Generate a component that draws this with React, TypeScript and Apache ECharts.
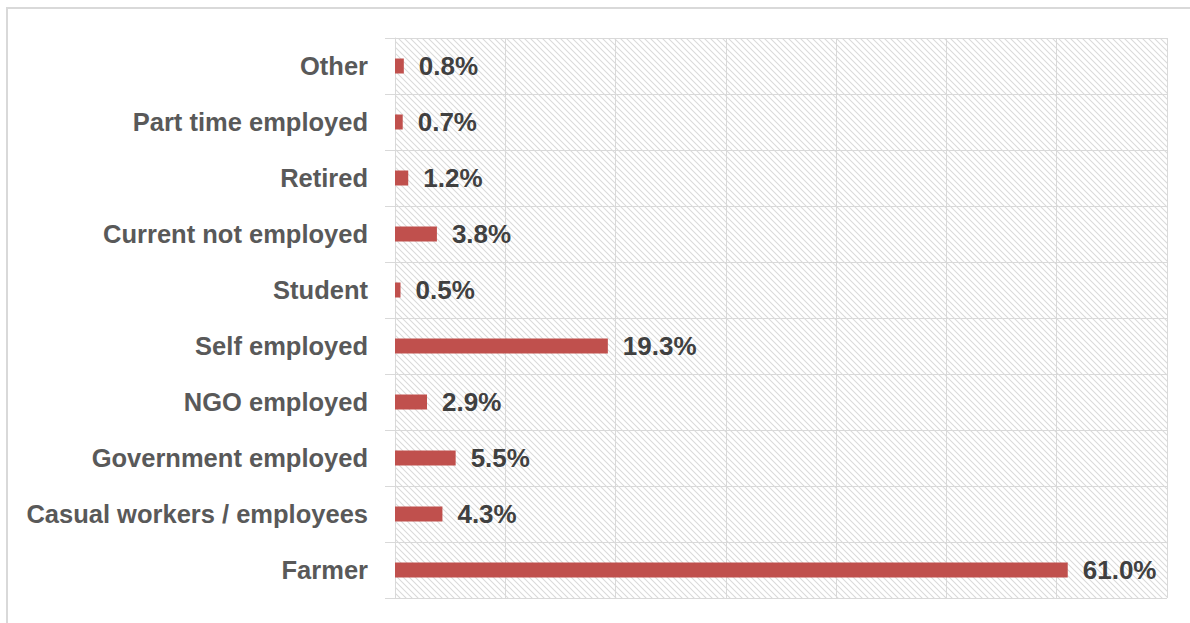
import React, { useEffect, useRef } from "react";
import * as echarts from "echarts";

const categories = [
  "Farmer",
  "Casual workers / employees",
  "Government employed",
  "NGO employed",
  "Self employed",
  "Student",
  "Current not employed",
  "Retired",
  "Part time employed",
  "Other",
];
const values = [61.0, 4.3, 5.5, 2.9, 19.3, 0.5, 3.8, 1.2, 0.7, 0.8];
const xMin = 0;
const xMax = 70;
const xInterval = 10;

const W = 1190;
const H = 623;
const GRID = { left: 395, right: 23, top: 38, bottom: 25 };

function hatchTile(): string {
  const s = 6;
  const svg =
    `<svg xmlns='http://www.w3.org/2000/svg' width='${s}' height='${s}'>` +
    `<path d='M-1,-1 L${s + 1},${s + 1} M-1,${s - 1} L1,${s + 1} M${s - 1},-1 L${s + 1},1' stroke='#dadada' stroke-width='1.1' fill='none'/>` +
    `</svg>`;
  return "data:image/svg+xml;charset=utf-8," + encodeURIComponent(svg);
}

export default function App() {
  const ref = useRef<HTMLDivElement>(null);
  useEffect(() => {
    if (!ref.current) return;
    const chart = echarts.init(ref.current, undefined, { renderer: "svg" });
    const font = "'Liberation Sans', Arial, sans-serif";
    const gridW = W - GRID.left - GRID.right;
    const gridH = H - GRID.top - GRID.bottom;
    chart.setOption({
      animation: false,
      backgroundColor: "#ffffff",
      grid: { ...GRID, containLabel: false },
      graphic: [
        {
          type: "rect",
          z: -10,
          silent: true,
          shape: { x: 7, y: 8, width: 1300, height: 800 },
          style: { fill: "#ffffff", stroke: "#d9d9d9", lineWidth: 2 },
        },
        {
          type: "rect",
          z: -5,
          silent: true,
          shape: { x: GRID.left, y: GRID.top, width: gridW, height: gridH },
          style: {
            fill: { image: hatchTile(), repeat: "repeat", imageWidth: 6, imageHeight: 6 },
          },
        },
      ],
      xAxis: {
        type: "value",
        min: xMin,
        max: xMax,
        interval: xInterval,
        axisLine: { show: false },
        axisTick: { show: false },
        axisLabel: { show: false },
        splitLine: { show: true, lineStyle: { color: "#d9d9d9", width: 1 } },
      },
      yAxis: {
        type: "category",
        data: categories,
        axisLine: { show: true, lineStyle: { color: "#d9d9d9", width: 1 } },
        axisTick: { show: true, length: 10, lineStyle: { color: "#d9d9d9" } },
        splitLine: { show: true, lineStyle: { color: "#d9d9d9", width: 1 } },
        axisLabel: {
          margin: 27,
          color: "#595959",
          fontFamily: font,
          fontWeight: "bold",
          fontSize: 25.5,
        },
      },
      series: [
        {
          type: "bar",
          data: values,
          barWidth: 15,
          itemStyle: { color: "#C0504D" },
          label: {
            show: true,
            position: "right",
            distance: 15,
            color: "#404040",
            fontFamily: font,
            fontWeight: "bold",
            fontSize: 26,
            formatter: (p: any) => p.value.toFixed(1) + "%",
          },
        },
      ],
    });
    return () => chart.dispose();
  }, []);
  return (
    <div
      ref={ref}
      style={{ position: "absolute", left: 0, top: 0, width: W, height: H }}
    />
  );
}
